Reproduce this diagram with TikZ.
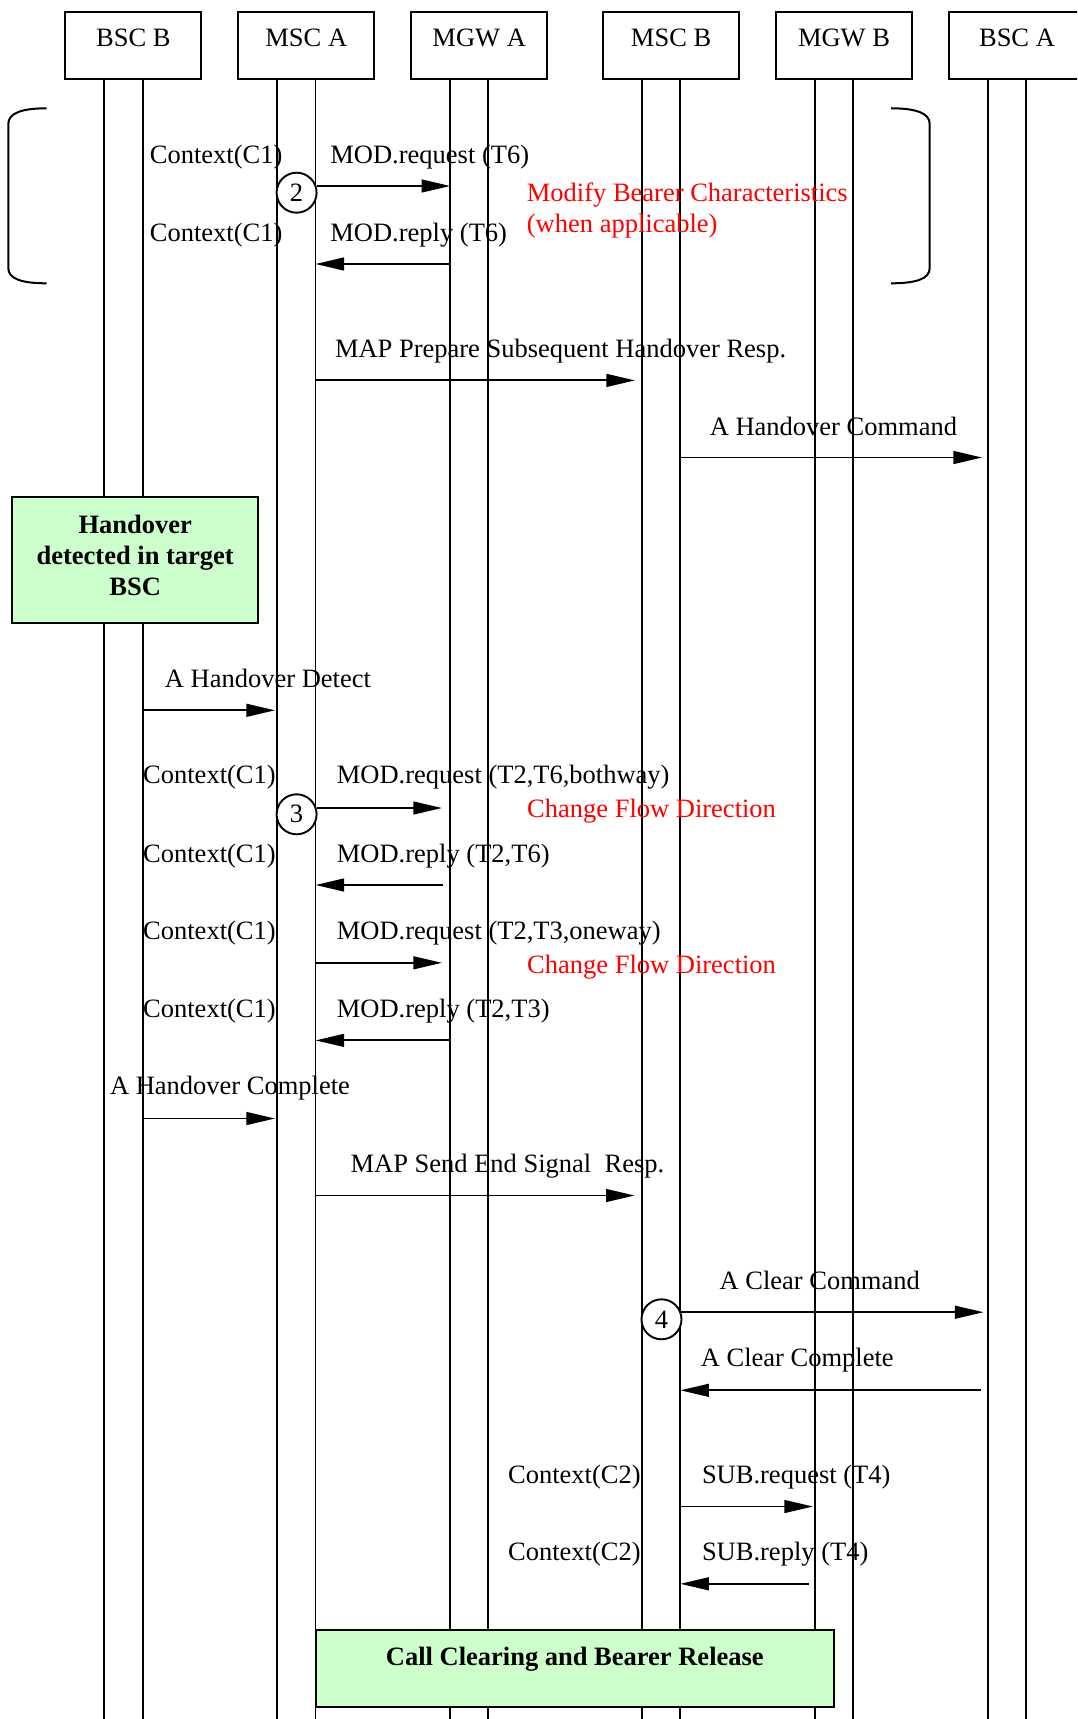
\documentclass[tikz,border=0pt]{standalone}
\usepackage{fontspec}
\setmainfont{Liberation Serif}
\usetikzlibrary{arrows.meta}
\definecolor{hlgreen}{HTML}{CCFFCC}
\definecolor{notered}{HTML}{FF0000}
\begin{document}
\begin{tikzpicture}[x=0.5pt,y=-0.5pt,
  every node/.style={font=\fontsize{13.25}{15.4}\selectfont, inner sep=0pt},
  hdr/.style={draw, line width=1pt, minimum width=68pt, minimum height=33.5pt},
  life/.style={line width=0.95pt},
  msg/.style={line width=0.95pt, -{Triangle[length=14.3pt,width=6.4pt]}},
  lbl/.style={anchor=base west},
  note/.style={anchor=base west, text=notered},
  hlbl/.style={anchor=base},
  num/.style={circle, draw, line width=0.95pt, fill=white, minimum size=20pt},
  gbox/.style={draw, line width=1pt, fill=hlgreen},
  btext/.style={anchor=base, font=\fontsize{13.25}{15.4}\selectfont\bfseries, align=center},
  bracket/.style={line width=1pt}]
\clip (0,0) rectangle (1077,1719);
\fill[white] (0,0) rectangle (1077,1719);

% lifelines
\foreach \x/\n in {104.4/a,142.6/b,277.3/c,315.5/d,450.2/e,488.4/f,642.1/g,680.3/h,815/i,853.2/j,988/k,1026.2/l}{
  \coordinate (top\n) at (\x,79);
  \coordinate (bot\n) at (\x,1725);
  \draw[life] (top\n) -- (bot\n);
}

% header boxes
\node[hdr] (bscb) at (133.4,45.5) {};
\node[hdr] (msca) at (306.3,45.5) {};
\node[hdr] (mgwa) at (479.2,45.5) {};
\node[hdr] (mscb) at (671.1,45.5) {};
\node[hdr] (mgwb) at (844,45.5) {};
\node[hdr] (bsca) at (1017,45.5) {};
\node[hlbl] (bscbt) at (133.4,46.7) {BSC B};
\node[hlbl] (mscat) at (306.3,46.7) {MSC A};
\node[hlbl] (mgwat) at (479.2,46.7) {MGW A};
\node[hlbl] (mscbt) at (671.1,46.7) {MSC B};
\node[hlbl] (mgwbt) at (844,46.7) {MGW B};
\node[hlbl] (bscat) at (1017,46.7) {BSC A};

% brackets
\draw[bracket] (46.7,108.3) .. controls (22,108.3) and (8.3,113) .. (8.3,124) -- (8.3,268)
  .. controls (8.3,279) and (22,283.3) .. (46.7,283.3);
\draw[bracket] (891,108.3) .. controls (915.7,108.3) and (929.7,113) .. (929.7,124) -- (929.7,268)
  .. controls (929.7,279) and (915.7,283.3) .. (891,283.3);

% message end points
\coordinate (m1s) at (316.5,186);   \coordinate (m1e) at (450.2,186);
\coordinate (m2s) at (450.2,264);   \coordinate (m2e) at (315.5,264);
\coordinate (m3s) at (315.5,380.4); \coordinate (m3e) at (635,380.4);
\coordinate (m4s) at (680.3,457.5); \coordinate (m4e) at (982,457.5);
\coordinate (m5s) at (142.6,710.3); \coordinate (m5e) at (275,710.3);
\coordinate (m6s) at (316.5,808);   \coordinate (m6e) at (442,808);
\coordinate (m7s) at (443,885);     \coordinate (m7e) at (315.5,885);
\coordinate (m8s) at (315.5,962.8); \coordinate (m8e) at (442,962.8);
\coordinate (m9s) at (450.2,1040.4);\coordinate (m9e) at (315.5,1040.4);
\coordinate (m10s) at (142.6,1118.5);\coordinate (m10e) at (275,1118.5);
\coordinate (m11s) at (315.5,1195.5);\coordinate (m11e) at (634.6,1195.5);
\coordinate (m12s) at (681,1312.2); \coordinate (m12e) at (983.5,1312.2);
\coordinate (m13s) at (981,1390.3); \coordinate (m13e) at (680.3,1390.3);
\coordinate (m14s) at (680.3,1506.5);\coordinate (m14e) at (813,1506.5);
\coordinate (m15s) at (809,1583.8); \coordinate (m15e) at (680.3,1583.8);
\foreach \i in {1,...,15}{\draw[msg] (m\i s) -- (m\i e);}

% numbered circles
\node[num] (n2) at (296.6,192.7) {2};
\node[num] (n3) at (296.6,814.3) {3};
\node[num] (n4) at (661.5,1319.3) {4};

% green boxes
\node[gbox, minimum width=123.15pt, minimum height=63.3pt] (hdbox) at (135.15,560) {};
\node[btext] (hdtext) at (135.2,595) {Handover\\detected in target\\BSC};
\node[gbox, minimum width=259.2pt, minimum height=38.65pt] (ccbox) at (574.8,1668.35) {};
\node[btext] (cctext) at (574.8,1665) {Call Clearing and Bearer Release};

% labels
\node[lbl] (t1) at (149.5,163.5) {Context(C1)};
\node[lbl] (t2) at (330,163.5) {MOD.request (T6)};
\node[note] (t3) at (526.5,201.3) {Modify Bearer Characteristics};
\node[note] (t4) at (526.5,232.8) {(when applicable)};
\node[lbl] (t5) at (149.5,241.5) {Context(C1)};
\node[lbl] (t6) at (330,241.5) {MOD.reply (T6)};
\node[lbl] (t7) at (334.6,357.2) {MAP Prepare Subsequent Handover Resp.};
\node[lbl] (t8) at (709.4,435) {A Handover Command};
\node[lbl] (t9) at (164.5,687) {A Handover Detect};
\node[lbl] (t10) at (142.8,783.6) {Context(C1)};
\node[lbl] (t11) at (336.5,783.6) {MOD.request (T2,T6,bothway)};
\node[note] (t12) at (526.8,817.6) {Change Flow Direction};
\node[lbl] (t13) at (142.8,862) {Context(C1)};
\node[lbl] (t14) at (336.5,862) {MOD.reply (T2,T6)};
\node[lbl] (t15) at (142.8,939.3) {Context(C1)};
\node[lbl] (t16) at (336.5,939.3) {MOD.request (T2,T3,oneway)};
\node[note] (t17) at (526.8,973) {Change Flow Direction};
\node[lbl] (t18) at (142.8,1017) {Context(C1)};
\node[lbl] (t19) at (336.5,1017) {MOD.reply (T2,T3)};
\node[lbl] (t20) at (109.6,1094.8) {A Handover Complete};
\node[lbl] (t21) at (350.2,1172) {MAP Send End Signal\ \ Resp.};
\node[lbl] (t22) at (719.2,1289) {A Clear Command};
\node[lbl] (t23) at (700.5,1366) {A Clear Complete};
\node[lbl] (t24) at (507.7,1483.4) {Context(C2)};
\node[lbl] (t25) at (701.6,1483.4) {SUB.request (T4)};
\node[lbl] (t26) at (507.7,1560.2) {Context(C2)};
\node[lbl] (t27) at (701.6,1560.2) {SUB.reply (T4)};
\end{tikzpicture}
\end{document}
